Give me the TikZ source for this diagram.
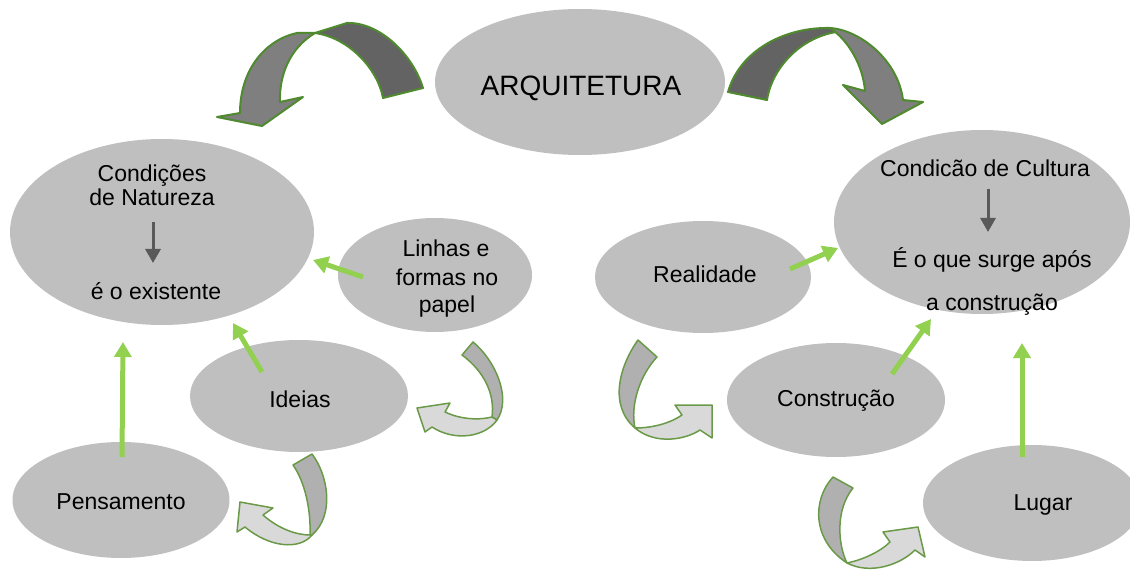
\documentclass[tikz,border=0pt]{standalone}
\usepackage{fontspec}
\setmainfont{Liberation Sans}
\usetikzlibrary{shapes.geometric,arrows.meta}
\definecolor{ellgray}{HTML}{BFBFBF}
\definecolor{arrowgreen}{HTML}{92D050}
\definecolor{pointgray}{HTML}{595959}
\definecolor{ribdark}{HTML}{636363}
\definecolor{riblight}{HTML}{7F7F7F}
\definecolor{smalldark}{HTML}{B0B0B0}
\definecolor{smalllight}{HTML}{D9D9D9}
\definecolor{outlinegreen}{HTML}{4F8A2F}
\definecolor{outlinegreen2}{HTML}{6A9A48}
\tikzset{
  ell/.style={ellipse, fill=ellgray, draw=none, inner sep=0pt},
  txt/.style={font=\fontsize{23}{29}\selectfont, inner sep=0pt, anchor=base},
  bigtxt/.style={font=\fontsize{28}{34}\selectfont, inner sep=0pt, anchor=base},
  garrow/.style={draw=arrowgreen, line width=5pt, -{Triangle[width=17pt,length=15pt]}},
  darrow/.style={draw=pointgray, line width=3pt, -{Triangle[width=15pt,length=14pt]}},
  bigdark/.style={fill=ribdark, draw=outlinegreen, line width=2pt, line join=round},
  biglight/.style={fill=riblight, draw=outlinegreen, line width=2pt, line join=round},
  smdark/.style={fill=smalldark, draw=outlinegreen2, line width=1.5pt, line join=round},
  smlight/.style={fill=smalllight, draw=outlinegreen2, line width=1.5pt, line join=round}
}
\begin{document}
\begin{tikzpicture}[x=1pt,y=-1pt]
\useasboundingbox (0,0) rectangle (1130,572);

% ellipses
\node[ell, minimum width=290pt, minimum height=146pt] (arq) at (580,82) {};
\node[ell, minimum width=304pt, minimum height=186pt] (nat) at (162,232) {};
\node[ell, minimum width=194pt, minimum height=114pt] (lin) at (435,275) {};
\node[ell, minimum width=216pt, minimum height=112pt] (rea) at (703,277) {};
\node[ell, minimum width=296pt, minimum height=184pt] (cul) at (982,222) {};
\node[ell, minimum width=218pt, minimum height=112pt] (ide) at (299,396) {};
\node[ell, minimum width=217pt, minimum height=116pt] (pen) at (121,500) {};
\node[ell, minimum width=218pt, minimum height=114pt] (con) at (836,400) {};
\node[ell, minimum width=218pt, minimum height=116pt] (lug) at (1032,503) {};

% texts
\node[bigtxt] (arqt) at (581,96) {ARQUITETURA};
\node[txt] (natt1) at (152,182) {Condições};
\node[txt] (natt2) at (152,206) {de Natureza};
\node[txt] (natt3) at (156,299) {é o existente};
\node[txt] (lint1) at (446,257) {Linhas e};
\node[txt] (lint2) at (447,285) {formas no};
\node[txt] (lint3) at (447,312) {papel};
\node[txt] (reat) at (705,283) {Realidade};
\node[txt] (cult1) at (985,177) {Condicão de Cultura};
\node[txt] (cult2) at (992,268) {É o que surge após};
\node[txt] (cult3) at (992,310) {a construção};
\node[txt] (idet) at (300,407) {Ideias};
\node[txt] (pent) at (121,509) {Pensamento};
\node[txt] (cont) at (836,406) {Construção};
\node[txt] (lugt) at (1043,510) {Lugar};

% dark gray arrows inside ellipses
\coordinate (na1) at (153,222); \coordinate (na2) at (153,263);
\draw[darrow] (na1) -- (na2);
\coordinate (ca1) at (988,189); \coordinate (ca2) at (988,232);
\draw[darrow] (ca1) -- (ca2);

% green connectors
\coordinate (g1s) at (122,457); \coordinate (g1e) at (123,342);
\draw[garrow] (g1s) -- (g1e);
\coordinate (g2s) at (262,372); \coordinate (g2e) at (233,323);
\draw[garrow] (g2s) -- (g2e);
\coordinate (g3s) at (363,277); \coordinate (g3e) at (313,260);
\draw[garrow] (g3s) -- (g3e);
\coordinate (g4s) at (790,269); \coordinate (g4e) at (838,248);
\draw[garrow] (g4s) -- (g4e);
\coordinate (g5s) at (892,374); \coordinate (g5e) at (931,319);
\draw[garrow] (g5s) -- (g5e);
\coordinate (g6s) at (1022,457); \coordinate (g6e) at (1022,343);
\draw[garrow] (g6s) -- (g6e);

% big top-left curved arrow
\draw[bigdark] (315,33) -- (347,23) .. controls (380,22) and (413,55) .. (423,88)
  -- (383,98) .. controls (378,70) and (350,38) .. (315,33) -- cycle;
\draw[biglight] (315,33) -- (297,33) .. controls (265,40) and (240,70) .. (240,113)
  -- (217,117) -- (262,126) -- (303,97) -- (280,102)
  .. controls (279,75) and (290,48) .. (315,33) -- cycle;

% big top-right curved arrow
\draw[bigdark] (728,92) .. controls (740,50) and (785,27) .. (830,28)
  -- (836,32) .. controls (800,38) and (772,68) .. (767,100) -- cycle;
\draw[biglight] (830,28) .. controls (860,30) and (898,60) .. (903,100)
  -- (923,102) -- (882,124) -- (843,85) -- (865,91)
  .. controls (863,65) and (848,40) .. (830,28) -- cycle;

% small arrow A (near Linhas)
\draw[smdark] (462,355) -- (473,342) .. controls (495,360) and (512,398) .. (497,420)
  -- (492,417) .. controls (495,395) and (485,372) .. (462,355) -- cycle;
\draw[smlight] (497,420) .. controls (485,437) and (455,442) .. (432,427)
  -- (425,432) -- (417,408) -- (450,403) -- (445,412)
  .. controls (462,420) and (480,420) .. (492,417) -- cycle;

% small arrow B (near Ideias)
\draw[smdark] (293,465) -- (312,454) .. controls (328,475) and (335,515) .. (312,535)
  -- (310,535) .. controls (311,510) and (305,482) .. (293,465) -- cycle;
\draw[smlight] (312,535) .. controls (300,550) and (270,548) .. (245,527)
  -- (237,532) -- (240,502) -- (273,508) -- (263,515)
  .. controls (280,530) and (298,535) .. (310,535) -- cycle;

% small arrow C (near Realidade)
\draw[smdark] (638,340) .. controls (620,365) and (608,405) .. (635,428)
  .. controls (630,405) and (640,375) .. (657,357) -- cycle;
\draw[smlight] (635,428) .. controls (655,428) and (672,422) .. (682,415)
  -- (675,405) -- (712,405) -- (712,438) -- (700,430)
  .. controls (685,440) and (655,445) .. (635,428) -- cycle;

% small arrow D (near Lugar)
\draw[smdark] (833,477) .. controls (812,500) and (812,540) .. (847,563)
  .. controls (838,545) and (835,510) .. (853,488) -- cycle;
\draw[smlight] (847,563) .. controls (862,560) and (880,552) .. (890,542)
  -- (883,532) -- (918,527) -- (925,557) -- (915,550)
  .. controls (900,565) and (870,575) .. (847,563) -- cycle;
\end{tikzpicture}
\end{document}
